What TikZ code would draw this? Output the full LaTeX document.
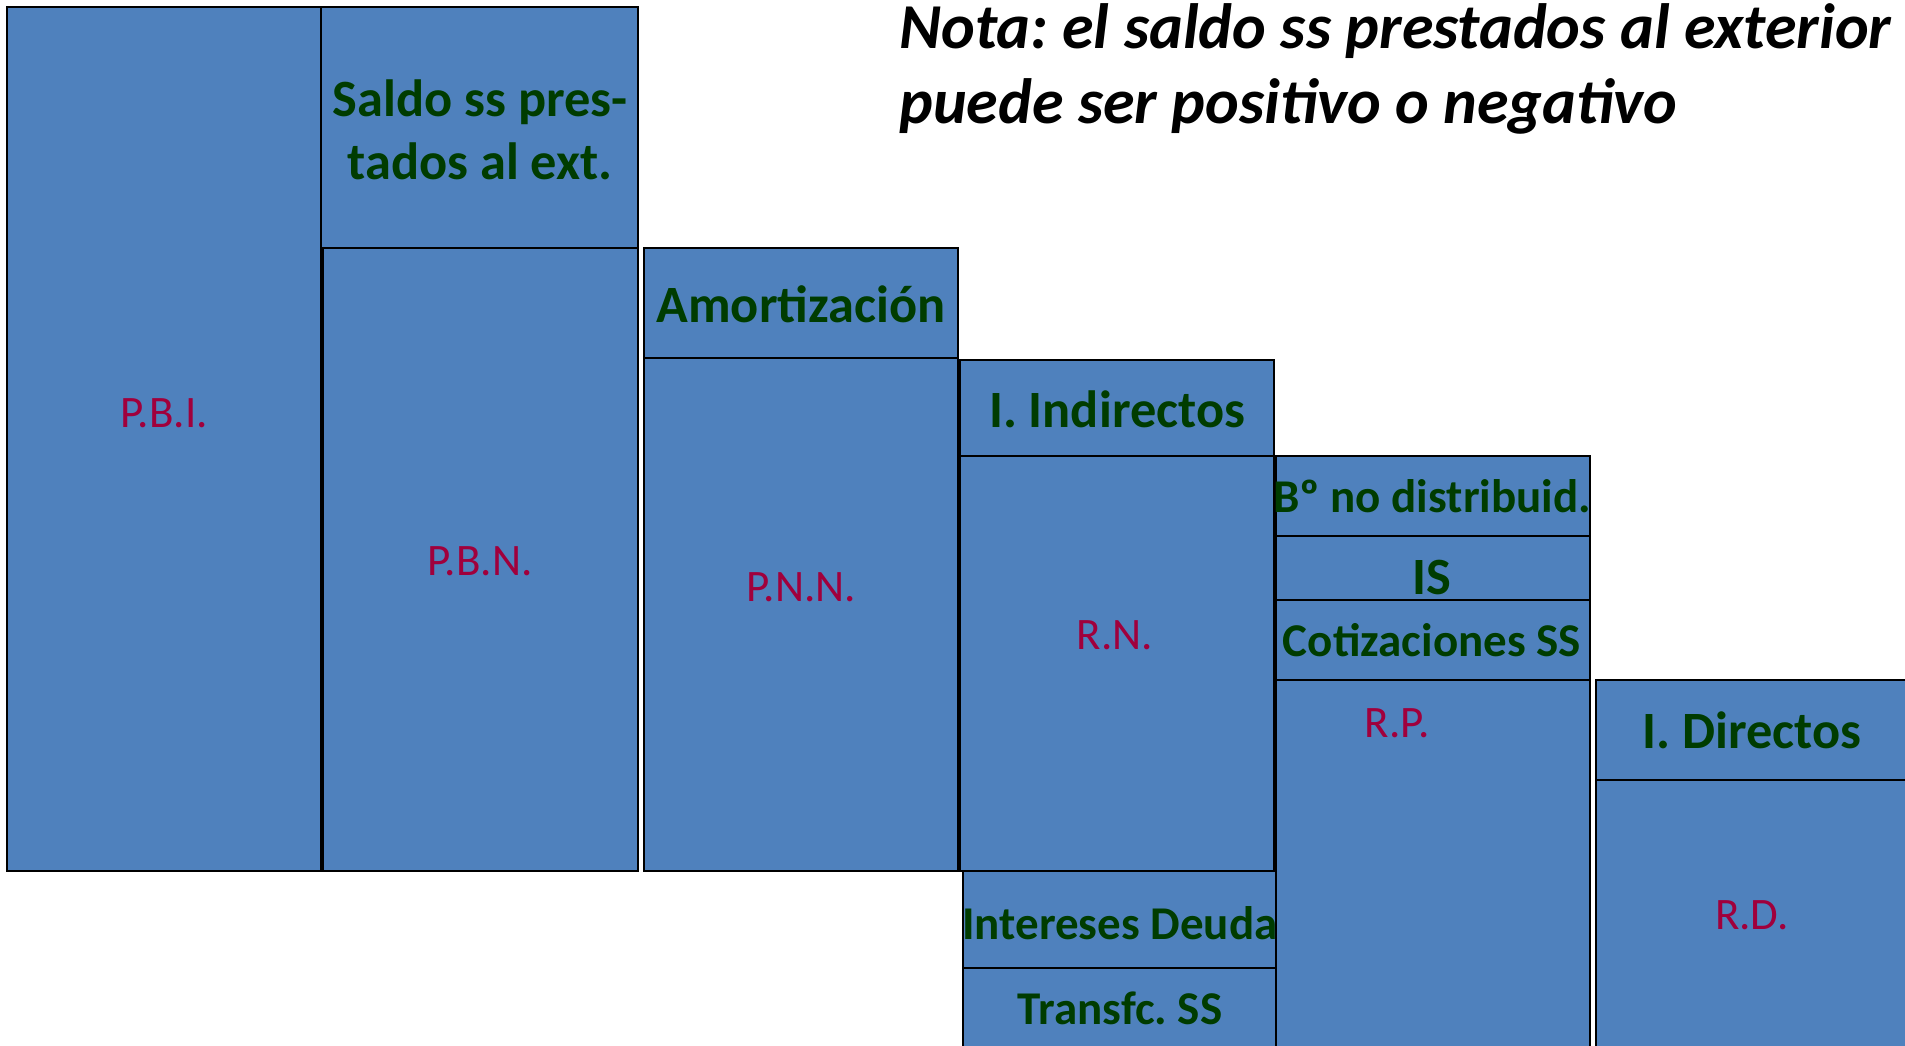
\documentclass[tikz,border=0pt]{standalone}
\usepackage{fontspec}
\setmainfont{Carlito}
\frenchspacing
\usetikzlibrary{fit}
\definecolor{azul}{HTML}{4F81BD}
\definecolor{verdeosc}{RGB}{0,60,0}
\definecolor{granate}{RGB}{160,0,60}
\tikzset{
	caja/.style={draw=black, line width=0.8pt, fill=azul, inner sep=0pt},
	etiq/.style={text=verdeosc, font=\bfseries\fontsize{26.2}{31.5}\selectfont, align=center, inner sep=0pt},
	etiqp/.style={etiq, font=\bfseries\fontsize{23.5}{28}\selectfont},
	agreg/.style={text=granate, font=\fontsize{22.5}{27}\selectfont, inner sep=0pt},
	nota/.style={font=\bfseries\itshape\fontsize{32}{37.5}\selectfont, align=left, inner sep=0pt},
}
\begin{document}
\begin{tikzpicture}[x=0.5pt, y=-0.5pt]
	\useasboundingbox (0,0) rectangle (1905,1045);
	\clip (0,0) rectangle (1905,1045);
	% cajas
	\node[caja, fit={(7,7) (321,871)}] (pbi) {};
	\node[caja, fit={(321,7) (638,248)}] (saldo) {};
	\node[caja, fit={(323,248) (638,871)}] (pbn) {};
	\node[caja, fit={(644,248) (958,358)}] (amort) {};
	\node[caja, fit={(644,358) (958,871)}] (pnn) {};
	\node[caja, fit={(960,360) (1274,456)}] (iind) {};
	\node[caja, fit={(960,456) (1274,871)}] (rn) {};
	\node[caja, fit={(963,871) (1278,968)}] (intd) {};
	\node[caja, fit={(963,968) (1278,1070)}] (trss) {};
	\node[caja, fit={(1276,456) (1590,536)}] (bnd) {};
	\node[caja, fit={(1276,536) (1590,600)}] (is) {};
	\node[caja, fit={(1276,600) (1590,680)}] (cotss) {};
	\node[caja, fit={(1276,680) (1590,1070)}] (rp) {};
	\node[caja, fit={(1596,680) (1930,780)}] (idir) {};
	\node[caja, fit={(1596,780) (1930,1070)}] (rd) {};
	% textos
	\node[agreg] (tpbi) at (164,413) {P.B.I.};
	\node[agreg] (tpbn) at (480,561) {P.B.N.};
	\node[agreg] (tpnn) at (801,587) {P.N.N.};
	\node[agreg] (trn) at (1115,635) {R.N.};
	\node[agreg] (trp) at (1397,723) {R.P.};
	\node[agreg] (trd) at (1752,915) {R.D.};
	\node[etiq] (tsaldo) at (480,130) {Saldo ss pres-\\tados al ext.};
	\node[etiq] (tamort) at (801,304) {Amortización};
	\node[etiq] (tiind) at (1117,409) {I. Indirectos};
	\node[etiqp] (tbnd) at (1432,496) {Bº no distribuid.};
	\node[etiq] (tis) at (1432,577) {IS};
	\node[etiqp] (tcotss) at (1432,640) {Cotizaciones SS};
	\node[etiqp] (tintd) at (1120,923) {Intereses Deuda};
	\node[etiqp] (ttrss) at (1120,1008) {Transfc. SS};
	\node[etiq] (tidir) at (1752,730) {I. Directos};
	\node[nota, anchor=north west] (nota) at (899,3) {Nota: el saldo ss prestados al exterior\\puede ser positivo o negativo};
\end{tikzpicture}
\end{document}
